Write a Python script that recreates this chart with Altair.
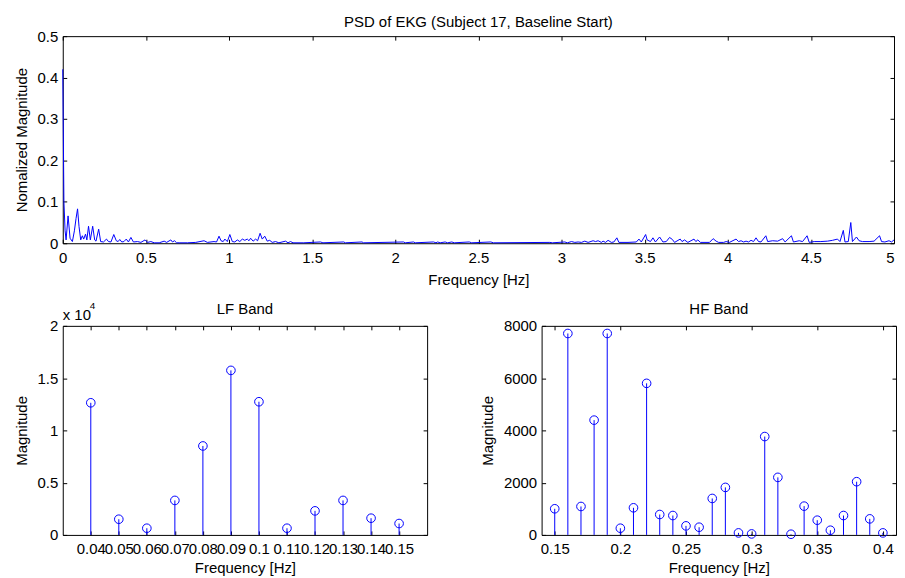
import altair as alt
import pandas as pd

FONT = "Liberation Sans"
BLUE = "#0000ff"
FS = 15

# ---------------- data ----------------
top_freq = [
    0.000, 0.007, 0.014, 0.020, 0.032, 0.044, 0.058, 0.070, 0.080, 0.089,
    0.098, 0.108, 0.118, 0.126, 0.137, 0.145, 0.155, 0.166, 0.180, 0.192,
    0.200, 0.216, 0.228, 0.245, 0.263, 0.275, 0.290, 0.307, 0.322, 0.333,
    0.343, 0.355, 0.368, 0.382, 0.395, 0.410, 0.425, 0.450, 0.470, 0.495,
    0.510, 0.530, 0.550, 0.580, 0.610, 0.625, 0.650, 0.660, 0.672, 0.685,
    0.700, 0.750, 0.800, 0.850, 0.870, 0.910, 0.925, 0.940, 0.952, 0.965,
    0.975, 0.990, 1.005, 1.020, 1.035, 1.050, 1.065, 1.080, 1.095, 1.110,
    1.120, 1.130, 1.145, 1.160, 1.172, 1.187, 1.200, 1.215, 1.230, 1.245,
    1.260, 1.280, 1.300, 1.340, 1.355, 1.370, 1.385, 1.450, 1.550, 1.565,
    1.690, 1.700, 1.800, 1.810, 2.050, 2.060, 2.110, 2.120, 2.230, 2.245,
    2.255, 2.270, 2.300, 2.315, 2.340, 2.355, 2.445, 2.460, 2.575, 2.590,
    2.930, 2.945, 3.020, 3.035, 3.060, 3.080, 3.100, 3.120, 3.140, 3.160,
    3.190, 3.205, 3.220, 3.240, 3.250, 3.265, 3.280, 3.300, 3.315, 3.333,
    3.345, 3.400, 3.450, 3.466, 3.480, 3.506, 3.515, 3.535, 3.550, 3.565,
    3.590, 3.610, 3.630, 3.650, 3.667, 3.680, 3.714, 3.725, 3.740, 3.760,
    3.797, 3.808, 3.820, 3.835, 3.890, 3.912, 3.930, 3.945, 3.975, 3.990,
    4.010, 4.050, 4.065, 4.080, 4.095, 4.110, 4.125, 4.140, 4.155, 4.170,
    4.185, 4.200, 4.229, 4.240, 4.270, 4.300, 4.330, 4.345, 4.383, 4.395,
    4.430, 4.450, 4.477, 4.490, 4.520, 4.560, 4.600, 4.630, 4.660, 4.675,
    4.695, 4.705, 4.725, 4.740, 4.750, 4.774, 4.790, 4.810, 4.850, 4.880,
    4.913, 4.925, 4.945, 4.970, 4.985, 5.000,
]
top_val = [
    0.420, 0.100, 0.030, 0.008, 0.066, 0.012, 0.004, 0.030, 0.060, 0.083,
    0.040, 0.008, 0.018, 0.010, 0.022, 0.008, 0.041, 0.008, 0.041, 0.008,
    0.005, 0.034, 0.004, 0.003, 0.010, 0.004, 0.003, 0.021, 0.006, 0.004,
    0.009, 0.003, 0.004, 0.010, 0.003, 0.014, 0.003, 0.004, 0.002, 0.008,
    0.002, 0.004, 0.001, 0.001, 0.005, 0.002, 0.008, 0.003, 0.006, 0.001,
    0.001, 0.001, 0.002, 0.006, 0.002, 0.004, 0.003, 0.017, 0.006, 0.004,
    0.010, 0.004, 0.021, 0.004, 0.003, 0.008, 0.004, 0.010, 0.007, 0.010,
    0.006, 0.012, 0.005, 0.010, 0.006, 0.024, 0.010, 0.017, 0.005, 0.007,
    0.002, 0.004, 0.001, 0.005, 0.001, 0.004, 0.001, 0.001, 0.003, 0.001,
    0.003, 0.001, 0.003, 0.001, 0.003, 0.001, 0.003, 0.001, 0.003, 0.001,
    0.003, 0.001, 0.003, 0.001, 0.003, 0.001, 0.003, 0.001, 0.003, 0.001,
    0.002, 0.001, 0.003, 0.001, 0.004, 0.002, 0.003, 0.002, 0.005, 0.002,
    0.006, 0.004, 0.006, 0.002, 0.005, 0.002, 0.007, 0.002, 0.003, 0.013,
    0.002, 0.002, 0.003, 0.010, 0.003, 0.021, 0.008, 0.004, 0.013, 0.003,
    0.015, 0.003, 0.004, 0.014, 0.009, 0.002, 0.010, 0.004, 0.008, 0.002,
    0.010, 0.004, 0.008, 0.002, 0.002, 0.011, 0.005, 0.002, 0.002, 0.004,
    0.002, 0.010, 0.004, 0.006, 0.003, 0.005, 0.003, 0.007, 0.004, 0.013,
    0.004, 0.003, 0.018, 0.004, 0.006, 0.005, 0.011, 0.003, 0.018, 0.003,
    0.006, 0.004, 0.018, 0.002, 0.004, 0.004, 0.005, 0.007, 0.010, 0.004,
    0.031, 0.003, 0.004, 0.050, 0.004, 0.015, 0.006, 0.004, 0.004, 0.005,
    0.018, 0.004, 0.003, 0.006, 0.003, 0.008,
]

lf_freq = [0.04, 0.05, 0.06, 0.07, 0.08, 0.09, 0.10, 0.11, 0.12, 0.13, 0.14, 0.15]
lf_mag = [12640, 1500, 640, 3300, 8510, 15740, 12740, 640, 2300, 3300, 1600, 1090]

hf_freq = [0.15, 0.16, 0.17, 0.18, 0.19, 0.20, 0.21, 0.22, 0.23, 0.24, 0.25, 0.26, 0.27,
           0.28, 0.29, 0.30, 0.31, 0.32, 0.33, 0.34, 0.35, 0.36, 0.37, 0.38, 0.39, 0.40]
hf_mag = [1000, 7708, 1088, 4392, 7708, 256, 1037, 5800, 781, 742, 346, 294, 1395,
          1818, 77, 38, 3764, 2202, 26, 1101, 563, 179, 742, 2036, 614, 77]

top_xticks = [0, 0.5, 1, 1.5, 2, 2.5, 3, 3.5, 4, 4.5, 5]
top_yticks = [0, 0.1, 0.2, 0.3, 0.4, 0.5]
lf_xticks = [0.04, 0.05, 0.06, 0.07, 0.08, 0.09, 0.10, 0.11, 0.12, 0.13, 0.14, 0.15]
lf_yticks = [0, 5000, 10000, 15000, 20000]
hf_xticks = [0.15, 0.2, 0.25, 0.3, 0.35, 0.4]
hf_yticks = [0, 2000, 4000, 6000, 8000]


def ax(orient, values, labels=True, title=None, label_expr=None, pad=5, tpad=8,
       fmt="~g", label_align=None):
    kw = dict(orient=orient, values=values, tickSize=4, offset=-4, domain=False,
              grid=False, labels=labels, ticks=True, tickColor="black", tickWidth=1)
    if labels:
        kw.update(labelFontSize=FS, labelFont=FONT, labelColor="black",
                  labelPadding=pad, format=fmt, labelOverlap=False, labelFlush=False)
        if label_expr:
            kw["labelExpr"] = label_expr
        if label_align:
            kw["labelAlign"] = label_align
    if title:
        kw.update(title=title, titleFontSize=FS, titleFont=FONT,
                  titleFontWeight="normal", titleColor="black", titlePadding=tpad)
    else:
        kw["title"] = None
    return alt.Axis(**kw)


def text_mark(txt, x, y, size=FS, align="left", baseline="alphabetic"):
    return alt.Chart(pd.DataFrame({"t": [txt]})).mark_text(
        align=align, baseline=baseline, font=FONT, fontSize=size, color="black").encode(
        text="t:N", x=alt.value(x), y=alt.value(y))


# ---------------- top panel ----------------
top_df = pd.DataFrame({"f": top_freq, "v": top_val})
xs_top = alt.Scale(domain=[0, 5], nice=False, zero=False)
ys_top = alt.Scale(domain=[0, 0.5], nice=False)
last_right = {"condition": {"test": "datum.value >= 5", "value": "right"}, "value": "center"}

top_line = alt.Chart(top_df).mark_line(color=BLUE, strokeWidth=1).encode(
    x=alt.X("f:Q", scale=xs_top, axis=ax("bottom", top_xticks, title="Frequency [Hz]",
                                         pad=7, tpad=7, label_align=last_right)),
    y=alt.Y("v:Q", scale=ys_top, axis=ax("left", top_yticks, title="Nomalized Magnitude")),
)
top_box = alt.Chart(top_df).mark_line(opacity=0).encode(
    x=alt.X("f:Q", scale=xs_top, axis=ax("top", top_xticks, labels=False)),
    y=alt.Y("v:Q", scale=ys_top, axis=ax("right", top_yticks, labels=False)),
)
top = alt.layer(top_line, top_box).resolve_axis(x="independent", y="independent").properties(
    width=835, height=208,
    title=alt.TitleParams("PSD of EKG (Subject 17, Baseline Start)", font=FONT, fontSize=FS,
                          fontWeight="normal", color="black", offset=-1))


# ---------------- stem panels ----------------
def stem(freq, mag, xdom, ydom, xticks, yticks, title, w, h, label_expr=None, fmt="~g", extra=()):
    df = pd.DataFrame({"f": freq, "m": mag})
    xs = alt.Scale(domain=xdom, nice=False, zero=False)
    ys = alt.Scale(domain=ydom, nice=False)
    x_axis = ax("bottom", xticks, title="Frequency [Hz]", pad=7, tpad=4)
    y_axis = ax("left", yticks, title="Magnitude", label_expr=label_expr, fmt=fmt)
    rules = alt.Chart(df).mark_rule(color=BLUE, strokeWidth=1).encode(
        x=alt.X("f:Q", scale=xs, axis=x_axis),
        y=alt.Y("m:Q", scale=ys, axis=y_axis),
        y2=alt.datum(0),
    )
    pts = alt.Chart(df).mark_point(shape="circle", filled=False, color=BLUE, size=75,
                                   strokeWidth=1, opacity=1).encode(
        x=alt.X("f:Q", scale=xs, axis=x_axis), y=alt.Y("m:Q", scale=ys, axis=y_axis))
    head = text_mark(title, w / 2, -17, align="center", baseline="middle")
    main = alt.layer(rules, pts, head, *extra)
    box = alt.Chart(df).mark_point(opacity=0).encode(
        x=alt.X("f:Q", scale=xs, axis=ax("top", xticks, labels=False)),
        y=alt.Y("m:Q", scale=ys, axis=ax("right", yticks, labels=False)),
    )
    return alt.layer(main, box).resolve_axis(x="independent", y="independent").properties(
        width=w, height=h)


exp_base = text_mark("x 10", 0, -6)
exp_sup = text_mark("4", 27, -17, size=10)

lf = stem(lf_freq, lf_mag, [0.03, 0.16], [0, 20000], lf_xticks, lf_yticks, "LF Band",
          366, 210, label_expr="format(datum.value / 10000, '~g')", extra=[exp_base, exp_sup])
hf = stem(hf_freq, hf_mag, [0.14, 0.41], [0, 8000], hf_xticks, hf_yticks, "HF Band",
          356, 210, fmt="d")

chart = alt.vconcat(top, alt.hconcat(lf, hf, spacing=52), spacing=12).properties(
    padding={"left": 5, "top": 5, "right": 0, "bottom": 0},
    background="white",
).configure_view(stroke="black", strokeWidth=1).configure_axis(labelOverlap=False)

chart.save("out.html", embed_options={"renderer": "svg", "actions": False})
